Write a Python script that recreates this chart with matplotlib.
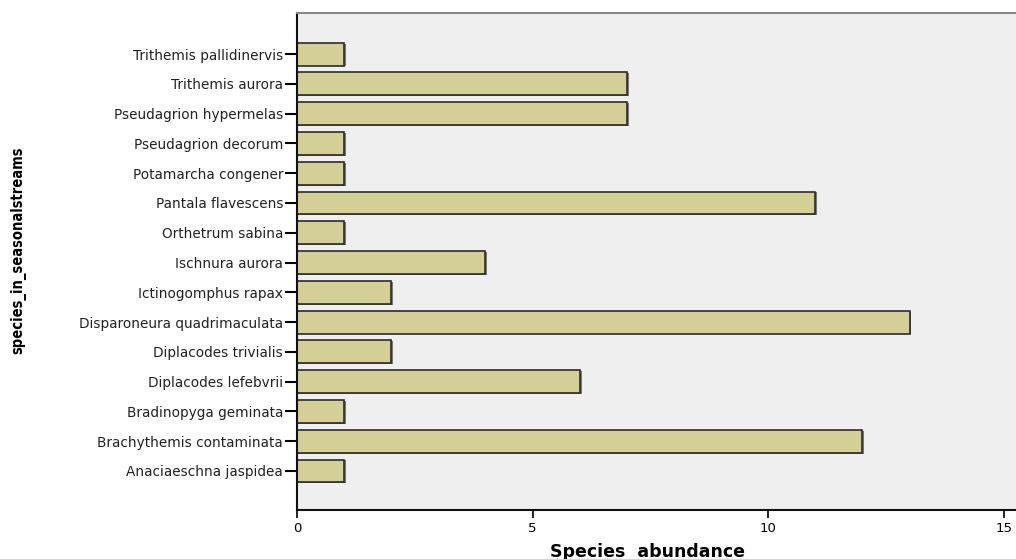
import matplotlib.pyplot as plt
import numpy as np

# species listed bottom -> top as in the chart
species = ["Anaciaeschna jaspidea", "Brachythemis contaminata", "Bradinopyga geminata",
           "Diplacodes lefebvrii", "Diplacodes trivialis", "Disparoneura quadrimaculata",
           "Ictinogomphus rapax", "Ischnura aurora", "Orthetrum sabina",
           "Pantala flavescens", "Potamarcha congener", "Pseudagrion decorum",
           "Pseudagrion hypermelas", "Trithemis aurora", "Trithemis pallidinervis"]
abundance = [1, 12, 1, 6, 2, 13, 2, 4, 1, 11, 1, 1, 7, 7, 1]
xticks = [0, 5, 10, 15]

fig = plt.figure(figsize=(10.16, 5.59), dpi=100)
ax = fig.add_axes([297/1016, 1 - 510/559, (1016 - 297)/1016, (510 - 13)/559])
ax.set_facecolor('#efefef')

y = np.arange(len(species))
# faint shadow on the right edge, like the SPSS look
ax.barh(y - 0.03, [a + 0.04 for a in abundance], height=0.77, color='#777777',
        linewidth=0)
ax.barh(y, abundance, height=0.77, color='#d3cf97', edgecolor='#2b2b2b', linewidth=1.2)

ax.set_xlim(0, 15.26)
ax.set_ylim(-1.31, 15.38)
ax.set_yticks(y)
ax.set_yticklabels(species, fontsize=9.8, family='DejaVu Sans', color='#222222')
ax.set_xticks(xticks)
ax.set_xticklabels([str(t) for t in xticks], fontsize=9.5, family='DejaVu Sans')
ax.tick_params(axis='y', length=9, width=1.5, pad=1)
ax.tick_params(axis='x', length=6, width=1.2, pad=3)

for s in ['left', 'bottom']:
    ax.spines[s].set_linewidth(1.5)
    ax.spines[s].set_color('#111111')
ax.spines['top'].set_color('#888888')
ax.spines['top'].set_linewidth(1.5)
ax.spines['right'].set_visible(False)

fig.text(648/1016, 1 - 552/559, 'Species  abundance', ha='center', va='center',
         fontsize=12.5, fontweight='bold', family='DejaVu Sans')
fig.text(18/1016, 1 - 250/559, 'species_in_seasonalstreams', ha='center', va='center',
         rotation=90, fontsize=10.5, fontweight='bold', family='DejaVu Sans',
         fontstretch='condensed')

plt.savefig('out.png', dpi=100)
